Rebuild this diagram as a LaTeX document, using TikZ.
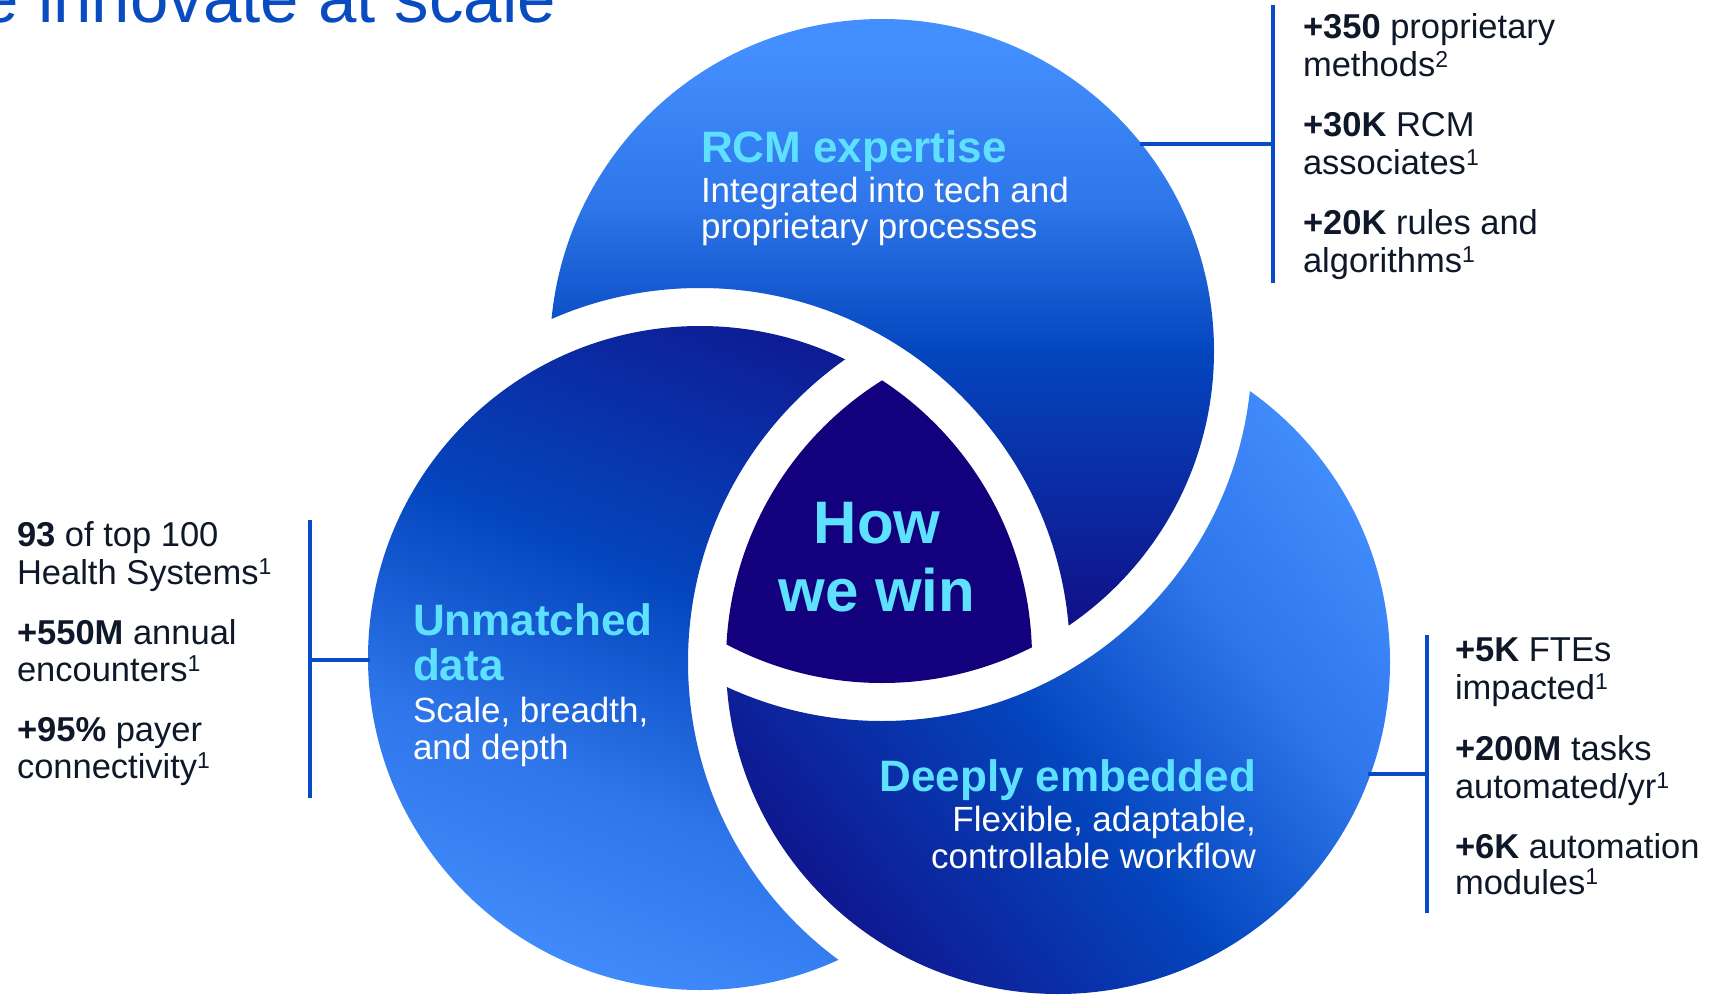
\documentclass[tikz,border=0pt]{standalone}
\usepackage{fontspec}
\setmainfont{Liberation Sans}
\usetikzlibrary{calc}

\definecolor{lightblue}{RGB}{68,143,255}
\definecolor{skyblue}{RGB}{46,118,234}
\definecolor{midblue}{RGB}{4,70,190}
\definecolor{deepblue}{RGB}{18,10,130}
\definecolor{corenavy}{RGB}{18,0,125}
\definecolor{headcyan}{RGB}{94,225,255}
\definecolor{statink}{RGB}{14,24,40}
\definecolor{rulecol}{RGB}{6,76,200}
\definecolor{titleblue}{RGB}{8,76,192}

% gradients for the three rings (low end = dark, high end = light);
% the circle itself covers the central part of each 100bp shading
\pgfdeclareverticalshading{ringTop}{100bp}{color(0bp)=(deepblue); color(27bp)=(deepblue); color(50bp)=(midblue); color(61bp)=(skyblue); color(73bp)=(lightblue); color(100bp)=(lightblue)}
\pgfdeclareverticalshading{ringLeft}{100bp}{color(0bp)=(deepblue); color(16bp)=(deepblue); color(46bp)=(midblue); color(62bp)=(skyblue); color(78bp)=(lightblue); color(100bp)=(lightblue)}
\pgfdeclareverticalshading{ringRight}{100bp}{color(0bp)=(deepblue); color(19bp)=(deepblue); color(46bp)=(midblue); color(62bp)=(skyblue); color(77bp)=(lightblue); color(100bp)=(lightblue)}

\newcommand{\fnote}[1]{\raisebox{9.5pt}{\fontsize{23}{23}\selectfont #1}}

\begin{document}
\begin{tikzpicture}[x=1pt,y=-1pt,
  every node/.style={inner sep=0pt, outer sep=0pt},
  head/.style={font=\fontsize{44}{44}\selectfont\bfseries, text=headcyan},
  body/.style={font=\fontsize{35}{35}\selectfont, text=white},
  core/.style={font=\fontsize{60}{60}\selectfont\bfseries, text=headcyan, anchor=base},
  stat/.style={font=\fontsize{34.5}{34.5}\selectfont, text=statink, anchor=base west},
  rule/.style={draw=rulecol, line width=3.5pt}]

\def\rad{332}
\def\radgap{370}

\useasboundingbox (0,0) rectangle (1716,995);
\clip (0,0) rectangle (1716,995);

% ring centres
\coordinate (Tc) at (882,351);
\coordinate (Lc) at (700,658);
\coordinate (Rc) at (1058,662);

% top ring, cut by the left ring
\begin{scope}[even odd rule]
  \clip (-50,-50) rectangle (1770,1050) (Lc) circle[radius=\radgap];
  \shade[shading=ringTop, shading angle=0] (Tc) circle[radius=\rad];
\end{scope}
% left ring, cut by the right ring
\begin{scope}[even odd rule]
  \clip (-50,-50) rectangle (1770,1050) (Rc) circle[radius=\radgap];
  \shade[shading=ringLeft, shading angle=158] (Lc) circle[radius=\rad];
\end{scope}
% right ring, cut by the top ring
\begin{scope}[even odd rule]
  \clip (-50,-50) rectangle (1770,1050) (Tc) circle[radius=\radgap];
  \shade[shading=ringRight, shading angle=-52] (Rc) circle[radius=\rad];
\end{scope}
% common core
\begin{scope}
  \clip (Tc) circle[radius=\rad];
  \clip (Lc) circle[radius=\rad];
  \fill[corenavy] (Rc) circle[radius=\rad];
\end{scope}

% title
\node[font=\fontsize{69}{69}\selectfont, text=titleblue, anchor=base east] (title) at (556,23) {We innovate at scale};

% ring labels
\node[head, anchor=base west] (tHead) at (701,163) {RCM expertise};
\node[body, anchor=base west] (tBody1) at (701,203) {Integrated into tech and};
\node[body, anchor=base west] (tBody2) at (701,239) {proprietary processes};

\node[head, anchor=base west] (lHead1) at (413,635) {Unmatched};
\node[head, anchor=base west] (lHead2) at (413,680) {data};
\node[body, anchor=base west] (lBody1) at (413,722) {Scale, breadth,};
\node[body, anchor=base west] (lBody2) at (413,759) {and depth};

\node[head, anchor=base east] (rHead) at (1256,791) {Deeply embedded};
\node[body, anchor=base east] (rBody1) at (1256,831) {Flexible, adaptable,};
\node[body, anchor=base east] (rBody2) at (1256,868) {controllable workflow};

\node[core] (core1) at (877,543) {How};
\node[core] (core2) at (877,611) {we win};

% figures beside the top ring
\node[stat] (t1a) at (1303,39) {\textbf{+350} proprietary};
\node[stat] (t1b) at (1303,77) {methods\fnote{2}};
\node[stat] (t2a) at (1303,137) {\textbf{+30K} RCM};
\node[stat] (t2b) at (1303,175) {associates\fnote{1}};
\node[stat] (t3a) at (1303,235) {\textbf{+20K} rules and};
\node[stat] (t3b) at (1303,272) {algorithms\fnote{1}};

% figures beside the left ring
\node[stat] (l1a) at (17,546) {\textbf{93} of top 100};
\node[stat] (l1b) at (17,584) {Health Systems\fnote{1}};
\node[stat] (l2a) at (17,644) {\textbf{+550M} annual};
\node[stat] (l2b) at (17,681) {encounters\fnote{1}};
\node[stat] (l3a) at (17,741) {\textbf{+95\%} payer};
\node[stat] (l3b) at (17,778) {connectivity\fnote{1}};

% figures beside the right ring
\node[stat] (r1a) at (1455,661) {\textbf{+5K} FTEs};
\node[stat] (r1b) at (1455,699) {impacted\fnote{1}};
\node[stat] (r2a) at (1455,760) {\textbf{+200M} tasks};
\node[stat] (r2b) at (1455,798) {automated/yr\fnote{1}};
\node[stat] (r3a) at (1455,858) {\textbf{+6K} automation};
\node[stat] (r3b) at (1455,894) {modules\fnote{1}};

% brackets and leaders
\coordinate (tTop) at (1273,5);
\coordinate (tBot) at (1273,283);
\coordinate (tJoin) at (1273,144);
\coordinate (tEdge) at (1140,144);
\draw[rule] (tTop) -- (tBot);
\draw[rule] (tEdge) -- (tJoin);

\coordinate (lTop) at (310,520);
\coordinate (lBot) at (310,798);
\coordinate (lJoin) at (310,660);
\coordinate (lEdge) at (370,660);
\draw[rule] (lTop) -- (lBot);
\draw[rule] (lEdge) -- (lJoin);

\coordinate (rTop) at (1427,635);
\coordinate (rBot) at (1427,913);
\coordinate (rJoin) at (1427,774);
\coordinate (rEdge) at (1368,774);
\draw[rule] (rTop) -- (rBot);
\draw[rule] (rEdge) -- (rJoin);

\end{tikzpicture}
\end{document}
